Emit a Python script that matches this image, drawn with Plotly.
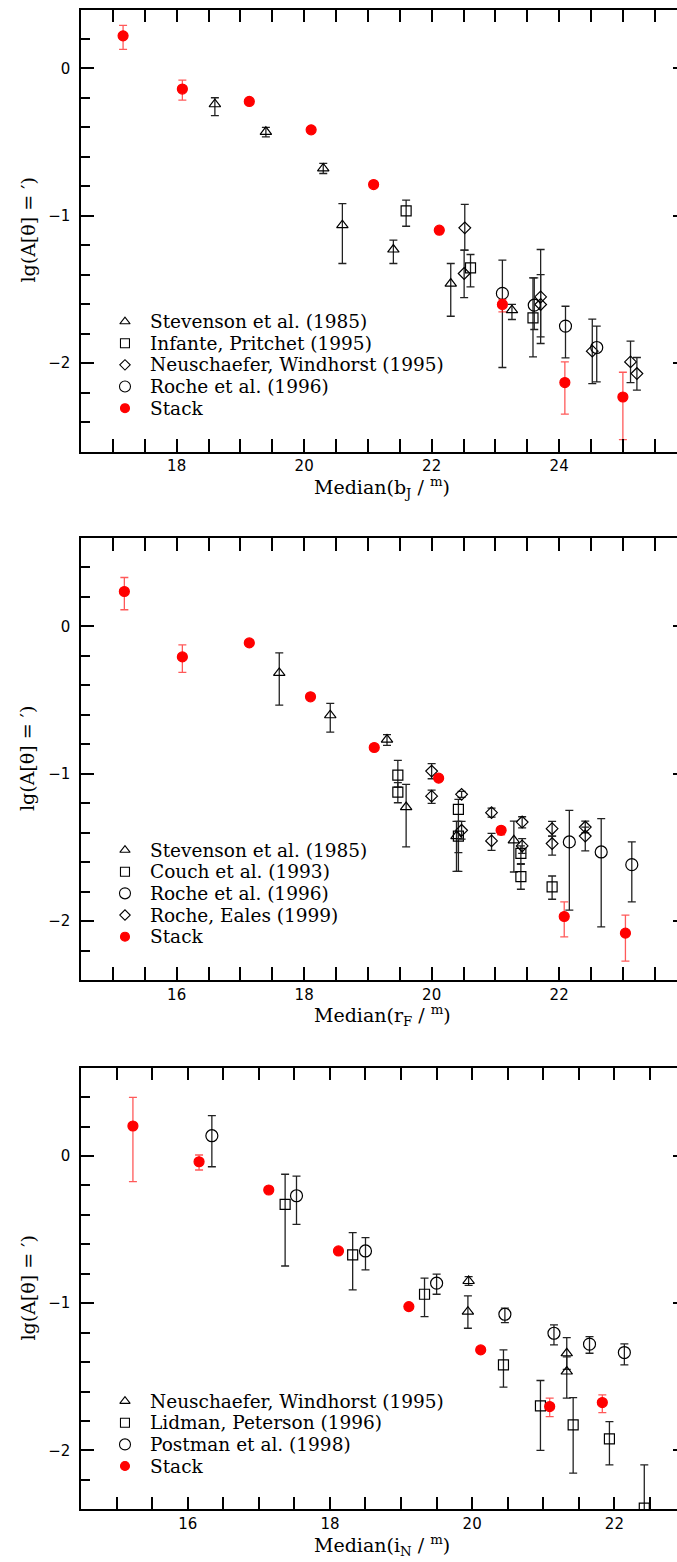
import plotly.graph_objects as go

# ---------------- panel 1: b_J ----------------
bj_stack_mag = [17.16, 18.09, 19.14, 20.11, 21.09, 22.12, 23.11, 24.09, 25.00]
bj_stack_lg = [0.221, -0.140, -0.224, -0.417, -0.788, -1.098, -1.602, -2.132, -2.230]
bj_stack_up = [0.071, 0.061, 0.0, 0.0, 0.0, 0.0, 0.034, 0.140, 0.168]
bj_stack_dn = [0.092, 0.075, 0.0, 0.0, 0.0, 0.0, 0.050, 0.215, 0.290]

bj_stev_mag = [18.60, 19.40, 20.30, 20.60, 21.40, 22.30, 23.26]
bj_stev_lg = [-0.243, -0.430, -0.679, -1.064, -1.229, -1.460, -1.641]
bj_stev_up = [0.044, 0.030, 0.034, 0.147, 0.063, 0.136, 0.039]
bj_stev_dn = [0.077, 0.034, 0.034, 0.260, 0.095, 0.222, 0.063]

bj_inf_mag = [21.60, 22.61, 23.59]
bj_inf_lg = [-0.967, -1.354, -1.693]
bj_inf_up = [0.073, 0.091, 0.271]
bj_inf_dn = [0.104, 0.129, 0.265]

bj_neu_mag = [22.52, 22.51, 23.71, 23.71, 24.52, 25.12, 25.22]
bj_neu_lg = [-1.082, -1.392, -1.551, -1.602, -1.919, -1.992, -2.071]
bj_neu_up = [0.159, 0.159, 0.322, 0.203, 0.217, 0.141, 0.109]
bj_neu_dn = [0.151, 0.163, 0.316, 0.220, 0.220, 0.140, 0.113]

bj_roche_mag = [23.11, 23.61, 24.10, 24.59]
bj_roche_lg = [-1.527, -1.607, -1.749, -1.894]
bj_roche_up = [0.226, 0.185, 0.135, 0.145]
bj_roche_dn = [0.503, 0.165, 0.216, 0.234]

# ---------------- panel 2: r_F ----------------
rf_stack_mag = [15.18, 16.09, 17.14, 18.10, 19.10, 20.11, 21.09, 22.08, 23.04]
rf_stack_lg = [0.237, -0.207, -0.112, -0.478, -0.822, -1.030, -1.384, -1.969, -2.082]
rf_stack_up = [0.095, 0.081, 0.0, 0.0, 0.0, 0.0, 0.020, 0.099, 0.122]
rf_stack_dn = [0.124, 0.105, 0.0, 0.0, 0.0, 0.0, 0.030, 0.138, 0.190]

rf_stev_mag = [17.61, 18.41, 19.30, 19.60, 20.39, 21.29]
rf_stev_lg = [-0.316, -0.603, -0.768, -1.226, -1.423, -1.452]
rf_stev_up = [0.136, 0.081, 0.034, 0.154, 0.100, 0.131]
rf_stev_dn = [0.219, 0.115, 0.040, 0.271, 0.240, 0.215]

rf_couch_mag = [19.47, 19.47, 20.42, 20.42, 21.40, 21.40, 21.89]
rf_couch_lg = [-1.010, -1.125, -1.242, -1.423, -1.540, -1.698, -1.768]
rf_couch_up = [0.100, 0.064, 0.068, 0.100, 0.050, 0.083, 0.074]
rf_couch_dn = [0.081, 0.072, 0.293, 0.240, 0.070, 0.086, 0.084]

rf_roche_mag = [22.16, 22.66, 23.14]
rf_roche_lg = [-1.463, -1.531, -1.617]
rf_roche_up = [0.214, 0.226, 0.154]
rf_roche_dn = [0.463, 0.508, 0.253]

rf_eales_mag = [20.00, 20.00, 20.47, 20.47, 20.94, 20.94, 21.42, 21.42, 21.89, 21.89, 22.41, 22.41]
rf_eales_lg = [-0.982, -1.152, -1.140, -1.384, -1.264, -1.456, -1.328, -1.490, -1.373, -1.474, -1.362, -1.423]
rf_eales_up = [0.050, 0.041, 0.020, 0.060, 0.030, 0.051, 0.036, 0.050, 0.050, 0.050, 0.041, 0.060]
rf_eales_dn = [0.052, 0.049, 0.020, 0.060, 0.030, 0.064, 0.039, 0.050, 0.050, 0.079, 0.040, 0.100]

# ---------------- panel 3: i_N ----------------
in_stack_mag = [15.23, 16.16, 17.14, 18.12, 19.11, 20.12, 21.09, 21.83]
in_stack_lg = [0.204, -0.039, -0.231, -0.645, -1.023, -1.317, -1.702, -1.675]
in_stack_up = [0.194, 0.046, 0.0, 0.0, 0.0, 0.015, 0.057, 0.052]
in_stack_dn = [0.378, 0.056, 0.0, 0.0, 0.0, 0.015, 0.068, 0.068]

in_neu_mag = [19.95, 19.94, 21.33, 21.33]
in_neu_lg = [-0.849, -1.057, -1.340, -1.464]
in_neu_up = [0.030, 0.107, 0.106, 0.100]
in_neu_dn = [0.030, 0.113, 0.110, 0.181]

in_lid_mag = [17.37, 18.32, 19.33, 20.44, 20.96, 21.42, 21.93, 22.42]
in_lid_lg = [-0.328, -0.672, -0.939, -1.419, -1.697, -1.826, -1.921, -2.392]
in_lid_up = [0.204, 0.152, 0.109, 0.102, 0.172, 0.185, 0.117, 0.294]
in_lid_dn = [0.419, 0.238, 0.152, 0.151, 0.303, 0.328, 0.177, 0.300]

in_post_mag = [16.34, 17.53, 18.50, 19.50, 20.46, 21.15, 21.65, 22.14]
in_post_lg = [0.138, -0.270, -0.645, -0.864, -1.075, -1.204, -1.278, -1.335]
in_post_up = [0.136, 0.134, 0.090, 0.061, 0.041, 0.057, 0.051, 0.059]
in_post_dn = [0.211, 0.194, 0.129, 0.075, 0.057, 0.079, 0.062, 0.084]

x_titles = ["Median(b<sub>J</sub> / <sup>m</sup>)",
            "Median(r<sub>F</sub> / <sup>m</sup>)",
            "Median(i<sub>N</sub> / <sup>m</sup>)"]
y_title = "lg(A[θ] = ′)"
x_ranges = [[16.5, 25.849], [14.5, 23.849], [14.5, 22.88]]
y_ranges = [[-2.6, 0.4], [-2.4, 0.6], [-2.4, 0.6]]

panels = [
    [("Stevenson et al. (1985)", "tri", bj_stev_mag, bj_stev_lg, bj_stev_up, bj_stev_dn),
     ("Infante, Pritchet (1995)", "sq", bj_inf_mag, bj_inf_lg, bj_inf_up, bj_inf_dn),
     ("Neuschaefer, Windhorst (1995)", "dia", bj_neu_mag, bj_neu_lg, bj_neu_up, bj_neu_dn),
     ("Roche et al. (1996)", "circ", bj_roche_mag, bj_roche_lg, bj_roche_up, bj_roche_dn),
     ("Stack", "stack", bj_stack_mag, bj_stack_lg, bj_stack_up, bj_stack_dn)],
    [("Stevenson et al. (1985)", "tri", rf_stev_mag, rf_stev_lg, rf_stev_up, rf_stev_dn),
     ("Couch et al. (1993)", "sq", rf_couch_mag, rf_couch_lg, rf_couch_up, rf_couch_dn),
     ("Roche et al. (1996)", "circ", rf_roche_mag, rf_roche_lg, rf_roche_up, rf_roche_dn),
     ("Roche, Eales (1999)", "dia", rf_eales_mag, rf_eales_lg, rf_eales_up, rf_eales_dn),
     ("Stack", "stack", rf_stack_mag, rf_stack_lg, rf_stack_up, rf_stack_dn)],
    [("Neuschaefer, Windhorst (1995)", "tri", in_neu_mag, in_neu_lg, in_neu_up, in_neu_dn),
     ("Lidman, Peterson (1996)", "sq", in_lid_mag, in_lid_lg, in_lid_up, in_lid_dn),
     ("Postman et al. (1998)", "circ", in_post_mag, in_post_lg, in_post_up, in_post_dn),
     ("Stack", "stack", in_stack_mag, in_stack_lg, in_stack_up, in_stack_dn)],
]

W, H = 677, 1562
LEFT = 81
frames_px = [(9.5, 451.5), (538.0, 980.0), (1067.7, 1509.3)]

SERIF = "DejaVu Serif"
SANS = "DejaVu Sans, Liberation Sans, sans-serif"

STYLE = {
    "tri": dict(symbol="triangle-up-open", size=10, color="black"),
    "sq": dict(symbol="square-open", size=10, color="black"),
    "dia": dict(symbol="diamond-open", size=9, color="black"),
    "circ": dict(symbol="circle-open", size=12, color="black"),
    "stack": dict(symbol="circle", size=10, color="#ff0000"),
}
ERRCOL = {"stack": "rgba(255,0,0,0.65)"}


def sfx(n):
    """Axis-id suffix: plotly names the first axis without a number."""
    return "" if n == 1 else str(n)


fig = go.Figure()
layout = dict(width=W, height=H, margin=dict(l=0, r=0, t=0, b=0),
              paper_bgcolor="white", plot_bgcolor="white", showlegend=False)
annotations = []
xdom = [LEFT / W, 1.0]

for i, series in enumerate(panels, start=1):
    top, bot = frames_px[i - 1]
    ydom = [1 - bot / H, 1 - top / H]
    xr, yr = x_ranges[i - 1], y_ranges[i - 1]
    xm, ym = "x" + sfx(i), "y" + sfx(i)            # data axes
    yt = "y" + sfx(i + 3)                           # right-edge ticks
    xk, yk_ = "x" + sfx(i + 3), "y" + sfx(i + 6)    # key (unit square)

    tick_common = dict(ticks="inside", tickwidth=1.5, tickcolor="black",
                       showgrid=False, zeroline=False)
    layout["xaxis" + sfx(i)] = dict(domain=xdom, anchor=ym, range=xr,
                                    showline=True, linecolor="black", linewidth=1.5,
                                    mirror="allticks", ticklen=13, dtick=2, tick0=0,
                                    minor=dict(dtick=0.5, ticks="inside", ticklen=9,
                                               tickwidth=1.5, tickcolor="black"),
                                    tickfont=dict(family=SANS, size=15, color="black"),
                                    ticklabelstandoff=0, **tick_common)
    layout["yaxis" + sfx(i)] = dict(domain=ydom, anchor=xm, range=yr,
                                    showline=True, linecolor="black", linewidth=1.5,
                                    mirror=False, ticklen=13, dtick=1, tick0=0,
                                    minor=dict(dtick=0.2, ticks="inside", ticklen=9,
                                               tickwidth=1.5, tickcolor="black"),
                                    tickfont=dict(family=SANS, size=15, color="black"),
                                    ticklabelstandoff=6, **tick_common)
    layout["yaxis" + sfx(i + 3)] = dict(overlaying=ym, side="right", anchor=xm,
                                        range=yr, dtick=1, tick0=0, ticklen=4,
                                        showticklabels=False, showline=False,
                                        **tick_common)
    layout["xaxis" + sfx(i + 3)] = dict(overlaying=xm, anchor=yk_,
                                        range=[0, 1], visible=False)
    layout["yaxis" + sfx(i + 6)] = dict(overlaying=ym, anchor=xk,
                                        range=[0, 1], visible=False)

    fig.add_trace(go.Scatter(x=[], y=[], xaxis=xm, yaxis=yt, hoverinfo="skip"))

    for label, key, mag, lg, up, dn in series:
        st = STYLE[key]
        fig.add_trace(go.Scatter(
            x=mag, y=lg, mode="markers", name=label,
            xaxis=xm, yaxis=ym,
            marker=dict(symbol=st["symbol"], size=st["size"], color=st["color"],
                        line=dict(width=1.2, color=st["color"])),
            error_y=dict(type="data", symmetric=False, array=up, arrayminus=dn,
                         color=ERRCOL.get(key, "#222222"), thickness=1.3, width=4),
        ))

    # key: rows stacked upward from the lowest entry
    n = len(series)
    row_h = 0.049
    for k, (label, key, *_rest) in enumerate(series):
        yk = 0.098 + (n - 1 - k) * row_h
        st = STYLE[key]
        fig.add_trace(go.Scatter(
            x=[0.0738], y=[yk], mode="markers", xaxis=xk, yaxis=yk_,
            marker=dict(symbol=st["symbol"], size=st["size"] - 1, color=st["color"],
                        line=dict(width=1.1, color=st["color"])),
            hoverinfo="skip"))
        annotations.append(dict(x=0.1124, y=yk, xref=xk, yref=yk_,
                                text=label, showarrow=False, xanchor="left",
                                yanchor="middle",
                                font=dict(family=SERIF, size=18.5, color="black")))

    annotations.append(dict(x=(382.0 - LEFT) / (W - LEFT), y=-0.081,
                            xref=xm + " domain", yref=ym + " domain",
                            text=x_titles[i - 1], showarrow=False,
                            xanchor="center", yanchor="middle",
                            font=dict(family=SERIF, size=19, color="black")))
    annotations.append(dict(x=-0.0906, y=0.5, xref=xm + " domain", yref=ym + " domain",
                            text=y_title, showarrow=False, textangle=-90,
                            xanchor="center", yanchor="middle",
                            font=dict(family=SERIF, size=19, color="black")))

layout["annotations"] = annotations
fig.update_layout(**layout)
fig.write_html("out.html")
